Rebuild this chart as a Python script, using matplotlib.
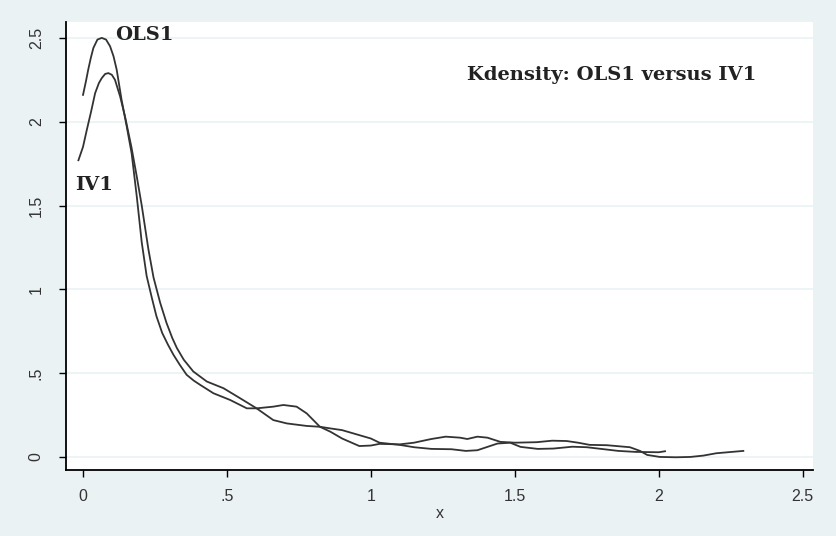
import matplotlib
matplotlib.use("Agg")
import matplotlib.pyplot as plt

# OLS1 kernel density
ols_x = [0.0, 0.01, 0.018, 0.027, 0.036, 0.05, 0.065, 0.08, 0.094, 0.106, 0.117, 0.134, 0.152, 0.169,
         0.187, 0.204, 0.221, 0.239, 0.255, 0.275, 0.295, 0.314, 0.336, 0.36, 0.385, 0.407, 0.453,
         0.511, 0.569, 0.603, 0.661, 0.696, 0.742, 0.777, 0.823, 0.86,
         0.9, 0.96, 1.0, 1.03, 1.1, 1.15, 1.21, 1.26, 1.31, 1.335, 1.37, 1.405, 1.45, 1.5, 1.576,
         1.63, 1.68, 1.72, 1.76, 1.82, 1.9, 1.935, 1.96, 2.004, 2.06, 2.11, 2.155, 2.2, 2.294]
ols_y = [2.16, 2.24, 2.31, 2.38, 2.44, 2.49, 2.50, 2.49, 2.45, 2.39, 2.31, 2.13, 1.97, 1.81,
         1.55, 1.28, 1.08, 0.95, 0.84, 0.74, 0.67, 0.61, 0.55, 0.49, 0.455, 0.43, 0.38,
         0.34, 0.29, 0.29, 0.30, 0.31, 0.30, 0.26, 0.18, 0.15,
         0.11, 0.065, 0.068, 0.078, 0.075, 0.085, 0.107, 0.121, 0.115, 0.107, 0.121, 0.115, 0.09, 0.085, 0.088,
         0.097, 0.095, 0.085, 0.072, 0.07, 0.058, 0.036, 0.012, 0.0, -0.002, 0.0, 0.008, 0.022, 0.036]

# IV1 kernel density
iv_x = [-0.016, 0.0, 0.013, 0.028, 0.042, 0.055, 0.065, 0.077, 0.088, 0.1, 0.111, 0.12, 0.129, 0.146,
        0.168, 0.186, 0.204, 0.227, 0.245, 0.268, 0.29, 0.31, 0.326, 0.35, 0.383, 0.43, 0.488,
        0.546, 0.603, 0.661, 0.708, 0.777, 0.823, 0.86, 0.9, 0.96,
        1.0, 1.03, 1.1, 1.15, 1.21, 1.28, 1.33, 1.37, 1.405, 1.44, 1.484, 1.52, 1.58, 1.634,
        1.7, 1.75, 1.8, 1.86, 1.92, 2.0, 2.022]
iv_y = [1.77, 1.85, 1.95, 2.06, 2.17, 2.23, 2.26, 2.285, 2.29, 2.28, 2.25, 2.20, 2.15, 2.03,
        1.85, 1.68, 1.50, 1.24, 1.07, 0.92, 0.80, 0.71, 0.65, 0.58, 0.51, 0.45, 0.41,
        0.35, 0.29, 0.22, 0.20, 0.185, 0.18, 0.17, 0.16, 0.13,
        0.11, 0.085, 0.072, 0.058, 0.048, 0.046, 0.036, 0.04, 0.06, 0.08, 0.085, 0.06, 0.048, 0.05,
        0.061, 0.058, 0.048, 0.036, 0.03, 0.028, 0.034]

x_ticks = [0, 0.5, 1, 1.5, 2, 2.5]
x_ticklabels = ["0", ".5", "1", "1.5", "2", "2.5"]
y_ticks = [0, 0.5, 1, 1.5, 2, 2.5]
y_ticklabels = ["0", ".5", "1", "1.5", "2", "2.5"]

bg = "#eaf2f3"
fig = plt.figure(figsize=(8.37, 5.36), dpi=100, facecolor=bg)
ax = fig.add_axes([0.0789, 0.1231, 0.8924, 0.8359])
ax.set_facecolor("white")

ax.plot(ols_x, ols_y, color="#333333", lw=1.3)
ax.plot(iv_x, iv_y, color="#333333", lw=1.3)

ax.set_xlim(-0.059, 2.536)
ax.set_ylim(-0.078, 2.595)

ax.set_xticks(x_ticks)
ax.set_xticklabels(x_ticklabels, fontfamily="Liberation Sans", fontsize=11.5, color="#333333")
ax.set_yticks(y_ticks)
ax.set_yticklabels(y_ticklabels, fontfamily="Liberation Sans", fontsize=11.5, color="#333333",
                   rotation=90, va="center")
ax.tick_params(axis="x", direction="out", length=5, width=1.0, color="black", pad=9)
ax.tick_params(axis="y", direction="out", length=5, width=1.0, color="black", pad=11)

for ytk in y_ticks:
    ax.axhline(ytk, color=bg, lw=1.2, zorder=0)

for s in ["top", "right"]:
    ax.spines[s].set_visible(False)
for s in ["left", "bottom"]:
    ax.spines[s].set_linewidth(1.3)
    ax.spines[s].set_color("black")

ax.set_xlabel("x", fontfamily="Liberation Sans", fontsize=11.5, color="#333333", labelpad=1)

ax.text(0.111, 2.52, "OLS1", fontfamily="DejaVu Serif", fontweight="bold", fontsize=14,
        va="center", ha="left", color="#222222")
ax.text(-0.028, 1.62, "IV1", fontfamily="DejaVu Serif", fontweight="bold", fontsize=14,
        va="center", ha="left", color="#222222")
ax.text(1.334, 2.28, "Kdensity: OLS1 versus IV1", fontfamily="DejaVu Serif", fontweight="bold",
        fontsize=14, va="center", ha="left", color="#222222")

fig.savefig("out.png", dpi=100, facecolor=bg)
